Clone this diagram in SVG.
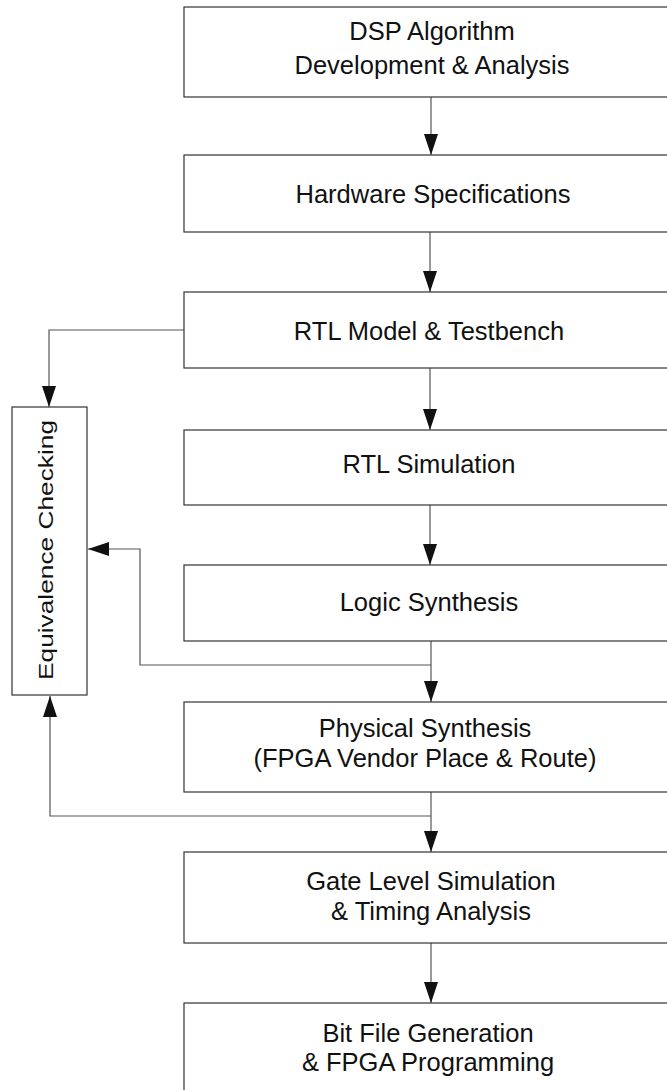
<svg xmlns="http://www.w3.org/2000/svg" width="667" height="1090" viewBox="0 0 667 1090">
<style>
  .box { fill: #ffffff; stroke: #333333; stroke-width: 1.2; }
  .lbl { font-family: "Liberation Sans", Arial, sans-serif; font-size: 25.5px; fill: #111111; text-anchor: middle; }
  .conn { fill: none; stroke: #555555; stroke-width: 1.2; }
</style>
<defs>
  <marker id="arr" markerUnits="userSpaceOnUse" markerWidth="21" markerHeight="14" refX="21" refY="7" orient="auto">
    <path d="M0,0 L21,7 L0,14 z" fill="#111111"/>
  </marker>
</defs>
<rect width="667" height="1090" fill="#ffffff"/>
<g id="connectors">
  <path class="conn" d="M431,97 V155" marker-end="url(#arr)"/>
  <path class="conn" d="M430,232 V292" marker-end="url(#arr)"/>
  <path class="conn" d="M430,368 V430" marker-end="url(#arr)"/>
  <path class="conn" d="M430,505 V565" marker-end="url(#arr)"/>
  <path class="conn" d="M431,641 V702" marker-end="url(#arr)"/>
  <path class="conn" d="M431,792 V852" marker-end="url(#arr)"/>
  <path class="conn" d="M431,943 V1003" marker-end="url(#arr)"/>
  <path class="conn" d="M184,330 H49 V407" marker-end="url(#arr)"/>
  <path class="conn" d="M431,665 H140 V549 H88" marker-end="url(#arr)"/>
  <path class="conn" d="M431,816 H50 V696" marker-end="url(#arr)"/>
</g>
<g id="dsp">
  <rect class="box" x="184" y="7" width="492" height="90"/>
  <text class="lbl" x="432" y="40">DSP Algorithm</text>
  <text class="lbl" x="432" y="74">Development &amp; Analysis</text>
</g>
<g id="hwspec">
  <rect class="box" x="184" y="155" width="492" height="77"/>
  <text class="lbl" x="433" y="203">Hardware Specifications</text>
</g>
<g id="rtlmodel">
  <rect class="box" x="184" y="292" width="492" height="76"/>
  <text class="lbl" x="429" y="340">RTL Model &amp; Testbench</text>
</g>
<g id="rtlsim">
  <rect class="box" x="184" y="430" width="492" height="75"/>
  <text class="lbl" x="429" y="473">RTL Simulation</text>
</g>
<g id="logicsyn">
  <rect class="box" x="184" y="565" width="492" height="76"/>
  <text class="lbl" x="429" y="611">Logic Synthesis</text>
</g>
<g id="physsyn">
  <rect class="box" x="184" y="702" width="492" height="90"/>
  <text class="lbl" x="425" y="737">Physical Synthesis</text>
  <text class="lbl" x="425" y="767">(FPGA Vendor Place &amp; Route)</text>
</g>
<g id="gatesim">
  <rect class="box" x="184" y="852" width="492" height="91"/>
  <text class="lbl" x="431" y="890">Gate Level Simulation</text>
  <text class="lbl" x="431" y="920">&amp; Timing Analysis</text>
</g>
<g id="bitfile">
  <rect class="box" x="184" y="1003" width="492" height="100"/>
  <text class="lbl" x="428" y="1042">Bit File Generation</text>
  <text class="lbl" x="428" y="1071">&amp; FPGA Programming</text>
</g>
<g id="equiv">
  <rect class="box" x="12" y="407" width="75" height="288"/>
  <text class="lbl" transform="translate(53,550) rotate(-90)" style="font-size:21px" textLength="260" lengthAdjust="spacingAndGlyphs">Equivalence Checking</text>
</g>
</svg>
